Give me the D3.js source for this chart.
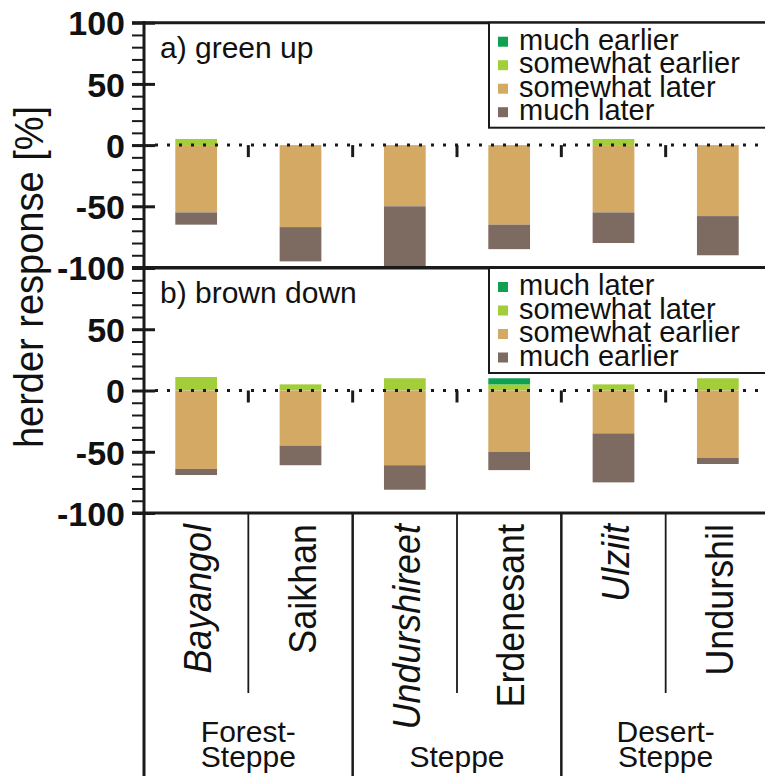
<!DOCTYPE html>
<html>
<head>
<meta charset="utf-8">
<script src="https://cdn.jsdelivr.net/npm/d3@7/dist/d3.min.js"></script>
<style>
  html, body { margin: 0; padding: 0; background: #fff; }
  svg { display: block; }
  text { font-family: "Liberation Sans", Arial, Helvetica, sans-serif; fill: #111; }
</style>
</head>
<body>
<svg id="chart" width="765" height="776"></svg>
<script>
// ---------------- data ----------------
const sites = ["Bayangol", "Saikhan", "Undurshireet", "Erdenesant", "Ulziit", "Undurshil"];
const italicSites = ["Bayangol", "Undurshireet", "Ulziit"];
const zones = [
  { lines: ["Forest-", "Steppe"], from: 0, to: 1 },
  { lines: ["Steppe"], from: 2, to: 3 },
  { lines: ["Desert-", "Steppe"], from: 4, to: 5 }
];
const yTicksMajor = [-100, -50, 0, 50, 100];
const yTicksMinor = d3.range(-100, 101, 10);

// panel a: green up
const greenUpMuchEarlier     = [0, 0, 0, 0, 0, 0];
const greenUpSomewhatEarlier = [5, 0, 0, 0, 5, 0];
const greenUpSomewhatLater   = [55, 67, 50, 65, 55, 58];
const greenUpMuchLater       = [10, 28, 50, 20, 25, 32];

// panel b: brown down
const brownDownMuchLater       = [0, 0, 0, 5, 0, 0];
const brownDownSomewhatLater   = [11, 5, 10, 5, 5, 10];
const brownDownSomewhatEarlier = [64, 45, 61, 50, 35, 55];
const brownDownMuchEarlier     = [5, 16, 20, 15, 40, 5];

const colors = {
  darkGreen: "#11a04f",
  lightGreen: "#a2ce3a",
  tan: "#d3a963",
  brown: "#7d6b62"
};

const panels = [
  {
    title: "a) green up",
    range: [267.5, 22.7],
    pos: [ { label: "much earlier", values: greenUpMuchEarlier, color: colors.darkGreen },
           { label: "somewhat earlier", values: greenUpSomewhatEarlier, color: colors.lightGreen } ],
    neg: [ { label: "somewhat later", values: greenUpSomewhatLater, color: colors.tan },
           { label: "much later", values: greenUpMuchLater, color: colors.brown } ],
    showTop: true
  },
  {
    title: "b) brown down",
    range: [513, 268],
    pos: [ { label: "much later", values: brownDownMuchLater, color: colors.darkGreen },
           { label: "somewhat later", values: brownDownSomewhatLater, color: colors.lightGreen } ],
    neg: [ { label: "somewhat earlier", values: brownDownSomewhatEarlier, color: colors.tan },
           { label: "much earlier", values: brownDownMuchEarlier, color: colors.brown } ],
    showTop: false
  }
];

// ---------------- layout ----------------
const svg = d3.select("#chart");
const axisX = 144;
const rightX = 770;
const bottomY = 776;

const xBand = d3.scaleBand().domain(sites).range([axisX, rightX]).paddingInner(0.6).paddingOuter(0.3);
const xCol = d3.scaleBand().domain(sites).range([axisX, rightX]).padding(0);

panels.forEach((p, pi) => {
  const y = d3.scaleLinear().domain([-100, 100]).range(p.range);
  const g = svg.append("g");

  // bars (positive stack: second entry closest to zero)
  sites.forEach((s, i) => {
    let base = 0;
    [p.pos[1], p.pos[0]].forEach(ser => {
      const v = ser.values[i];
      if (v > 0) {
        g.append("rect")
          .attr("x", xBand(s)).attr("width", xBand.bandwidth())
          .attr("y", y(base + v)).attr("height", y(base) - y(base + v))
          .attr("fill", ser.color);
      }
      base += v;
    });
    base = 0;
    p.neg.forEach(ser => {
      const v = ser.values[i];
      if (v > 0) {
        g.append("rect")
          .attr("x", xBand(s)).attr("width", xBand.bandwidth())
          .attr("y", y(base)).attr("height", y(base - v) - y(base))
          .attr("fill", ser.color);
      }
      base -= v;
    });
  });

  // dotted zero line
  g.append("line")
    .attr("x1", axisX + 11).attr("x2", rightX)
    .attr("y1", y(0)).attr("y2", y(0))
    .attr("stroke", "#1a1a1a").attr("stroke-width", 3)
    .attr("stroke-dasharray", "3,9").attr("stroke-dashoffset", -12);

  // category boundary ticks on zero line
  sites.slice(1).forEach(s => {
    g.append("line")
      .attr("x1", xCol(s)).attr("x2", xCol(s))
      .attr("y1", y(0)).attr("y2", y(0) + 12)
      .attr("stroke", "#1a1a1a").attr("stroke-width", 3);
  });

  // frame top / bottom lines
  [100, -100].forEach(v => {
    g.append("line")
      .attr("x1", axisX - 12).attr("x2", rightX)
      .attr("y1", y(v)).attr("y2", y(v))
      .attr("stroke", "#1a1a1a").attr("stroke-width", 3);
  });

  // minor ticks
  const minor = d3.axisLeft(y).tickValues(yTicksMinor).tickSize(12).tickFormat("");
  const gm = g.append("g").attr("transform", `translate(${axisX},0)`).call(minor);
  gm.select(".domain").remove();
  gm.selectAll(".tick line").attr("stroke", "#1a1a1a").attr("stroke-width", 2);

  // major ticks crossing axis, with labels
  const major = d3.axisLeft(y).tickValues(yTicksMajor).tickSize(12).tickPadding(7)
    .tickFormat(d => (d === 100 && !p.showTop) ? "" : d);
  const gM = g.append("g").attr("transform", `translate(${axisX},0)`).call(major);
  gM.select(".domain").remove();
  gM.selectAll(".tick line").attr("x1", 11).attr("stroke", "#1a1a1a").attr("stroke-width", 3);
  gM.selectAll(".tick text")
    .attr("font-family", '"Liberation Sans", Arial, sans-serif')
    .attr("font-size", 34).attr("font-weight", "bold").attr("fill", "#111")
    .attr("dy", "0.36em").attr("x", -19);

  // panel title
  g.append("text").attr("x", 160).attr("y", y(100) + 35)
    .attr("font-size", 30).text(p.title);

  // legend
  const top = y(100);
  const lg = g.append("g");
  lg.append("rect").attr("x", 489).attr("y", top).attr("width", rightX - 489 + 5).attr("height", 105)
    .attr("fill", "#fff").attr("stroke", "#1a1a1a").attr("stroke-width", 2);
  const items = [p.pos[0], p.pos[1], p.neg[0], p.neg[1]];
  items.forEach((it, k) => {
    const by = top + 27 + 23.5 * k;
    lg.append("rect").attr("x", 498).attr("y", by - 13).attr("width", 10).attr("height", 10)
      .attr("fill", it.color);
    lg.append("text").attr("x", 519).attr("y", by).attr("font-size", 29).text(it.label);
  });
});

// y axis line
svg.append("line").attr("x1", axisX).attr("x2", axisX).attr("y1", 21).attr("y2", bottomY)
  .attr("stroke", "#1a1a1a").attr("stroke-width", 3);

// y axis title
svg.append("text")
  .attr("transform", "translate(43,277) rotate(-90) scale(0.95,1)")
  .attr("text-anchor", "middle").attr("font-size", 40)
  .text("herder response [%]");

// ---------------- bottom table ----------------
const tableTop = 513;
sites.slice(1).forEach((s, i) => {
  const long = (i % 2 === 1);
  svg.append("line")
    .attr("x1", xCol(s)).attr("x2", xCol(s))
    .attr("y1", tableTop).attr("y2", long ? bottomY : 693)
    .attr("stroke", "#1a1a1a").attr("stroke-width", long ? 2.5 : 1.8);
});

sites.forEach(s => {
  const cx = xCol(s) + xCol.bandwidth() / 2;
  svg.append("text")
    .attr("transform", `translate(${cx + 15},524) rotate(-90) scale(0.92,1)`)
    .attr("text-anchor", "end").attr("font-size", 39)
    .attr("font-style", italicSites.includes(s) ? "italic" : "normal")
    .text(s);
});

zones.forEach(z => {
  const x0 = xCol(sites[z.from]);
  const x1 = xCol(sites[z.to]) + xCol.bandwidth();
  const cx = (x0 + x1) / 2;
  const t = svg.append("text").attr("text-anchor", "middle").attr("font-size", 30);
  const n = z.lines.length;
  z.lines.forEach((ln, k) => {
    t.append("tspan").attr("x", cx).attr("y", 767 - (n - 1 - k) * 25).text(ln);
  });
});
</script>
</body>
</html>
